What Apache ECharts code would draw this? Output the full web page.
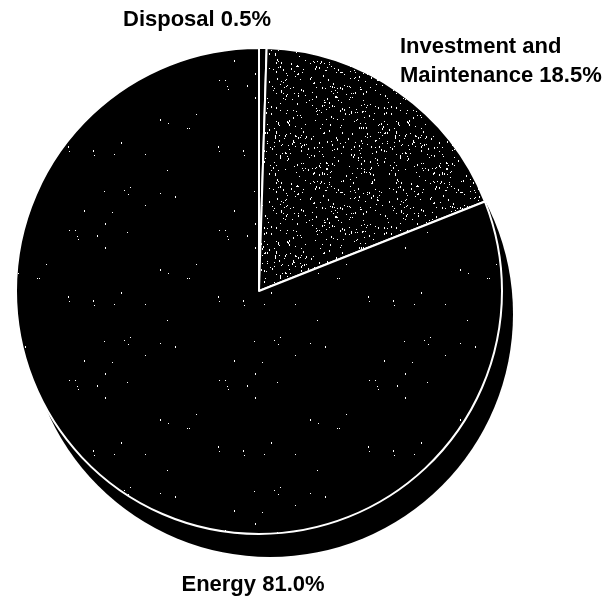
<!DOCTYPE html>
<html>
<head>
<meta charset="utf-8">
<script src="https://cdn.jsdelivr.net/npm/echarts@6/dist/echarts.min.js"></script>
<style>
  html, body { margin: 0; padding: 0; background: #fff; }
  #chart { width: 614px; height: 598px; }
</style>
</head>
<body>
<div id="chart"></div>
<script>
// ── Data ───────────────────────────────────────────────
const categories = ['Disposal', 'Investment and\nMaintenance', 'Energy'];
const shares     = [0.5, 18.5, 81.0];   // percent of total cost

// ── Layout ─────────────────────────────────────────────
const CENTER   = [259, 291];
const RADIUS   = 243;
const SHADOW_D = [11, 23];              // offset of the drop disc
const LABEL_POS = [
  { x: 123, y: 20,  align: 'left'   },
  { x: 400, y: 61,  align: 'left'   },
  { x: 253, y: 585, align: 'center' },
];

// ── Stipple textures (black with white specks) ─────────
function stipple(size, count, seed) {
  const c = document.createElement('canvas');
  c.width = c.height = size;
  const ctx = c.getContext('2d');
  ctx.fillStyle = '#000';
  ctx.fillRect(0, 0, size, size);
  ctx.fillStyle = '#fff';
  let s = seed;
  const next = () => { s = (s * 1103515245 + 12345) % 2147483648; return s / 2147483648; };
  for (let i = 0; i < count; i++) {
    const x = Math.floor(next() * size);
    const y = Math.floor(next() * size);
    const tall = next() < 0.35;
    ctx.fillRect(x, y, 1, tall ? 2 : 1);
  }
  return c;
}

const texDense  = stipple(120, 470, 7);
const texSparse = stipple(150, 30, 91);
const fills = [
  '#000',
  { image: texDense,  repeat: 'repeat' },
  { image: texSparse, repeat: 'repeat' },
];

const pieData = categories.map((name, i) => ({
  name,
  value: shares[i],
  itemStyle: { color: fills[i] },
}));

const total = shares.reduce((a, b) => a + b, 0);

// ── Chart ──────────────────────────────────────────────
const chart = echarts.init(document.getElementById('chart'), null, { renderer: 'canvas' });

chart.setOption({
  backgroundColor: '#fff',
  animation: false,
  series: [
    {
      // drop disc behind the pie
      type: 'pie',
      silent: true,
      z: 1,
      center: [CENTER[0] + SHADOW_D[0], CENTER[1] + SHADOW_D[1]],
      radius: RADIUS,
      label: { show: false },
      labelLine: { show: false },
      itemStyle: { color: '#000', borderWidth: 0 },
      data: [{ name: 'shadow', value: total }],
    },
    {
      type: 'pie',
      silent: true,
      z: 2,
      center: CENTER,
      radius: RADIUS,
      startAngle: 90,
      clockwise: true,
      avoidLabelOverlap: false,
      itemStyle: { borderColor: '#fff', borderWidth: 2 },
      label: {
        show: true,
        position: 'outside',
        color: '#000',
        fontFamily: 'Liberation Sans, Arial, sans-serif',
        fontWeight: 'bold',
        fontSize: 22,
        lineHeight: 29,
        formatter: p => p.name + ' ' + p.value.toFixed(1) + '%',
      },
      labelLine: { show: false },
      labelLayout: p => ({
        x: LABEL_POS[p.dataIndex].x,
        y: LABEL_POS[p.dataIndex].y,
        align: LABEL_POS[p.dataIndex].align,
        verticalAlign: 'middle',
      }),
      data: pieData,
    },
  ],
});
</script>
</body>
</html>
